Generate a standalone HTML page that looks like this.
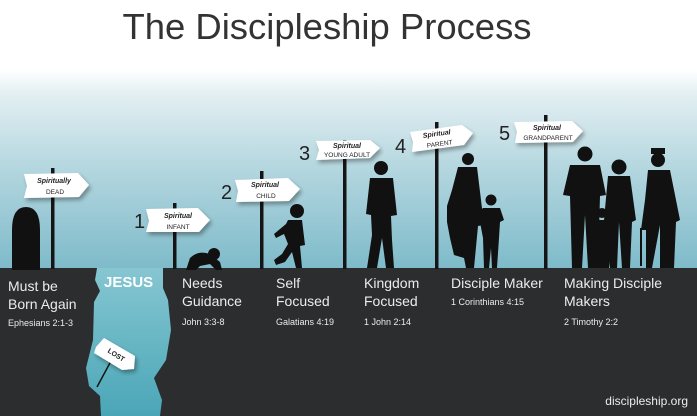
<!DOCTYPE html>
<html><head><meta charset="utf-8"><style>
html,body{margin:0;padding:0;width:697px;height:416px;overflow:hidden;background:#fff}
svg{display:block}
text{font-family:"Liberation Sans",sans-serif}
</style></head><body>
<svg width="697" height="416" viewBox="0 0 697 416">
<defs>
<linearGradient id="sky" x1="0" y1="0" x2="0" y2="1">
<stop offset="0" stop-color="#ffffff"/>
<stop offset="0.12" stop-color="#e3eff2"/>
<stop offset="0.5" stop-color="#b3d6df"/>
<stop offset="1" stop-color="#7dbac9"/>
</linearGradient>
<linearGradient id="chasm" x1="0" y1="0" x2="0" y2="1">
<stop offset="0" stop-color="#86c6d1"/>
<stop offset="1" stop-color="#4aa6b7"/>
</linearGradient>
<filter id="sh" x="-20%" y="-30%" width="150%" height="180%"><feDropShadow dx="2" dy="3" stdDeviation="2" flood-opacity="0.35"/></filter>
</defs>
<rect x="0" y="70" width="697" height="200" fill="url(#sky)"/>
<text x="327" y="39" text-anchor="middle" font-size="36" fill="#333" textLength="409" lengthAdjust="spacingAndGlyphs">The Discipleship Process</text>

<!-- chasm -->
<rect x="80" y="268" width="95" height="148" fill="url(#chasm)"/>
<!-- ground -->
<path d="M0 268 L97 268 L95 280 L100 291 L94 302 L93 340 L86 368 L89 386 L100 396 L101 416 L0 416 Z" fill="#2b2d2f"/>
<path d="M163 268 L697 268 L697 416 L160 416 L162 400 L154 378 L166 360 L171 330 L168 300 L163 288 Z" fill="#2b2d2f"/>

<!-- posts -->
<g fill="#151515">
<rect x="51" y="168" width="3.5" height="101"/>
<rect x="173" y="203" width="3.5" height="66"/>
<rect x="260" y="171" width="3.5" height="98"/>
<rect x="343" y="140" width="3.5" height="129"/>
<rect x="435" y="122" width="3.5" height="147"/>
<rect x="544" y="115" width="3.5" height="154"/>
<line x1="97" y1="387" x2="118" y2="348" stroke="#151515" stroke-width="1.5"/>
</g>

<!-- signs -->
<g fill="#fff" filter="url(#sh)">
<path d="M24 174 L78 173 L89 185 L79 197 L24 198 L27 186 Z"/>
<path d="M146 209 L198 208 L210 220 L199 232 L146 232 L149 221 Z"/>
<path d="M235 180 L288 178 L300 189 L289 201 L236 202 L238 191 Z"/>
<path d="M316 141 L370 140 L380 148 L370 158 L316 160 L319 150 Z"/>
<path d="M410 132 L462 125 L473 133 L464 145 L412 152 L413 142 Z"/>
<path d="M514 122 L572 121 L583 131 L573 142 L515 143 L517 132 Z"/>
<path d="M96 347 L104 338 L135 356 L134 369 L122 370 L94 353 Z"/>
</g>
<g fill="#222" font-weight="bold" text-anchor="middle">
<text x="54" y="183" font-size="7" font-style="italic">Spiritually</text>
<text x="55" y="194" font-size="6.5" font-weight="normal">DEAD</text>
<text x="178" y="218" font-size="7" font-style="italic">Spiritual</text>
<text x="178" y="229" font-size="6.5" font-weight="normal">INFANT</text>
<text x="265" y="187" font-size="7" font-style="italic">Spiritual</text>
<text x="266" y="198" font-size="6.5" font-weight="normal">CHILD</text>
<text x="347" y="148" font-size="7" font-style="italic">Spiritual</text>
<text x="347" y="157" font-size="6.5" font-weight="normal">YOUNG ADULT</text>
<text x="437" y="136" font-size="7" font-style="italic" transform="rotate(-8 437 136)">Spiritual</text>
<text x="440" y="146" font-size="6.5" font-weight="normal" transform="rotate(-8 440 146)">PARENT</text>
<text x="547" y="130" font-size="7" font-style="italic">Spiritual</text>
<text x="548" y="140" font-size="6.5" font-weight="normal">GRANDPARENT</text>
<text x="115" y="357" font-size="7" transform="rotate(32 115 357)">LOST</text>
</g>
<g fill="#222" font-size="20">
<text x="134" y="228">1</text>
<text x="221" y="199">2</text>
<text x="299" y="160">3</text>
<text x="395" y="153">4</text>
<text x="499" y="140">5</text>
</g>

<!-- silhouettes -->
<g fill="#111">
<path d="M12 270 L12 230 Q12 207 26 207 Q40 207 40 230 L40 270 Z"/>
<circle cx="214" cy="254" r="6"/>
<path d="M186 270 L190 258 Q198 250 210 254 L220 262 L222 270 L216 270 L210 264 L200 266 L196 270 Z"/>
<circle cx="297" cy="211" r="7"/>
<path d="M288 220 L302 220 L305 245 L300 246 L302 268 L296 268 L292 252 L285 262 L276 265 L274 260 L282 254 L288 244 L284 234 L276 238 L274 234 L286 224 Z"/>
<circle cx="381" cy="168" r="7"/>
<path d="M370 178 L393 178 L397 215 L391 216 L392 240 L394 268 L386 268 L382 238 L377 268 L367 268 L372 235 L371 215 L366 214 Z"/>
<circle cx="468" cy="159" r="6"/>
<path d="M458 167 L477 167 L481 200 L484 225 L478 226 L474 268 L466 268 L464 258 L454 255 L450 238 L447 222 L447 206 L452 190 Z"/>
<circle cx="491" cy="200" r="5.5"/>
<path d="M483 208 L500 208 L504 220 L500 222 L499 238 L497 268 L492 268 L491 248 L489 268 L484 268 L483 238 L480 222 L479 212 Z"/>
<circle cx="585" cy="154" r="7.5"/>
<path d="M570 165 L600 165 L606 195 L600 196 L598 268 L588 268 L585 215 L582 268 L572 268 L570 196 L563 195 Z"/>
<circle cx="602" cy="213" r="5"/>
<path d="M595 220 L610 220 L613 240 L609 268 L597 268 L595 240 Z"/>
<circle cx="619" cy="167" r="7.5"/>
<path d="M608 176 L630 176 L636 220 L632 222 L630 268 L622 268 L619 222 L617 268 L610 268 L608 222 L604 220 Z"/>
<circle cx="658" cy="160" r="7"/>
<rect x="651" y="148" width="14" height="6"/>
<path d="M648 170 L670 170 L680 220 L676 222 L674 268 L660 268 L660 225 L652 268 L646 268 L646 230 L641 230 L645 200 Z"/>
<rect x="640" y="228" width="2" height="38"/>
</g>

<!-- ground text -->
<g fill="#ececec">
<text x="8" y="291" font-size="14">Must be</text>
<text x="8" y="309" font-size="14">Born Again</text>
<text x="8" y="326" font-size="9">Ephesians 2:1-3</text>
<text x="104" y="287" font-size="15" font-weight="bold" fill="#fff">JESUS</text>
<text x="182" y="288" font-size="14">Needs</text>
<text x="182" y="306" font-size="14">Guidance</text>
<text x="182" y="325" font-size="9">John 3:3-8</text>
<text x="276" y="288" font-size="14">Self</text>
<text x="276" y="306" font-size="14">Focused</text>
<text x="276" y="325" font-size="9">Galatians 4:19</text>
<text x="364" y="288" font-size="14">Kingdom</text>
<text x="364" y="306" font-size="14">Focused</text>
<text x="364" y="325" font-size="9">1 John 2:14</text>
<text x="451" y="288" font-size="14">Disciple Maker</text>
<text x="451" y="305" font-size="9">1 Corinthians 4:15</text>
<text x="564" y="288" font-size="14">Making Disciple</text>
<text x="564" y="306" font-size="14">Makers</text>
<text x="564" y="325" font-size="9">2 Timothy 2:2</text>
<text x="688" y="405" font-size="12" text-anchor="end">discipleship.org</text>
</g>
</svg>
</body></html>
